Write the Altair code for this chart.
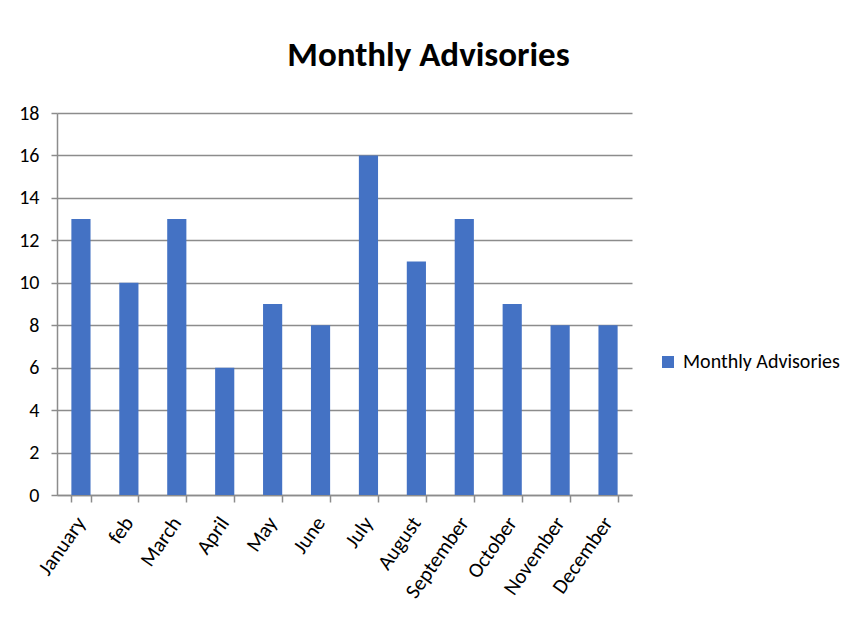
import altair as alt
import pandas as pd

months = ["January", "feb", "March", "April", "May", "June", "July",
          "August", "September", "October", "November", "December"]
values = [13, 10, 13, 6, 9, 8, 16, 11, 13, 9, 8, 8]
series = ["Monthly Advisories"] * len(months)

df = pd.DataFrame({"month": months, "value": values, "series": series})

FONT = "Carlito, Open Sans, sans-serif"

chart = alt.Chart(df).mark_bar(color="#4472C4").encode(
    x=alt.X("month:N", sort=months, title=None,
            scale=alt.Scale(paddingInner=0.6, paddingOuter=0.3),
            axis=alt.Axis(labelAngle=-55, labelFontSize=21, labelFont=FONT,
                          labelColor="#000000", tickBand="extent", tickSize=7,
                          tickColor="#8c8c8c", domainColor="#8c8c8c",
                          domainWidth=1.5, tickWidth=1.5, labelPadding=17)),
    y=alt.Y("value:Q", title=None,
            scale=alt.Scale(domain=[0, 18], nice=False),
            axis=alt.Axis(values=list(range(0, 19, 2)), labelFontSize=20,
                          labelFont=FONT, labelColor="#000000",
                          gridColor="#8c8c8c", gridWidth=1.5, tickSize=6,
                          tickColor="#8c8c8c", tickWidth=1.5,
                          domainColor="#8c8c8c", domainWidth=1.5,
                          labelPadding=12)),
    color=alt.Color("series:N", scale=alt.Scale(range=["#4472C4"]),
                    legend=alt.Legend(title=None, orient="none", legendX=601,
                                      legendY=239, symbolType="square",
                                      symbolSize=144, labelFontSize=20,
                                      labelFont=FONT, labelColor="#000000",
                                      symbolStrokeWidth=0, labelOffset=5,
                                      labelLimit=300)),
).properties(
    width=575, height=382,
    title=alt.TitleParams("Monthly Advisories", fontSize=35, font=FONT,
                          fontWeight="bold", color="#000000", anchor="middle",
                          dx=84, offset=30),
    autosize=alt.AutoSizeParams(type="none"),
    padding={"left": 49, "top": 105, "right": 214, "bottom": 134},
).configure_view(stroke=None)

chart.save("out.html", embed_options={"renderer": "svg", "actions": False})
